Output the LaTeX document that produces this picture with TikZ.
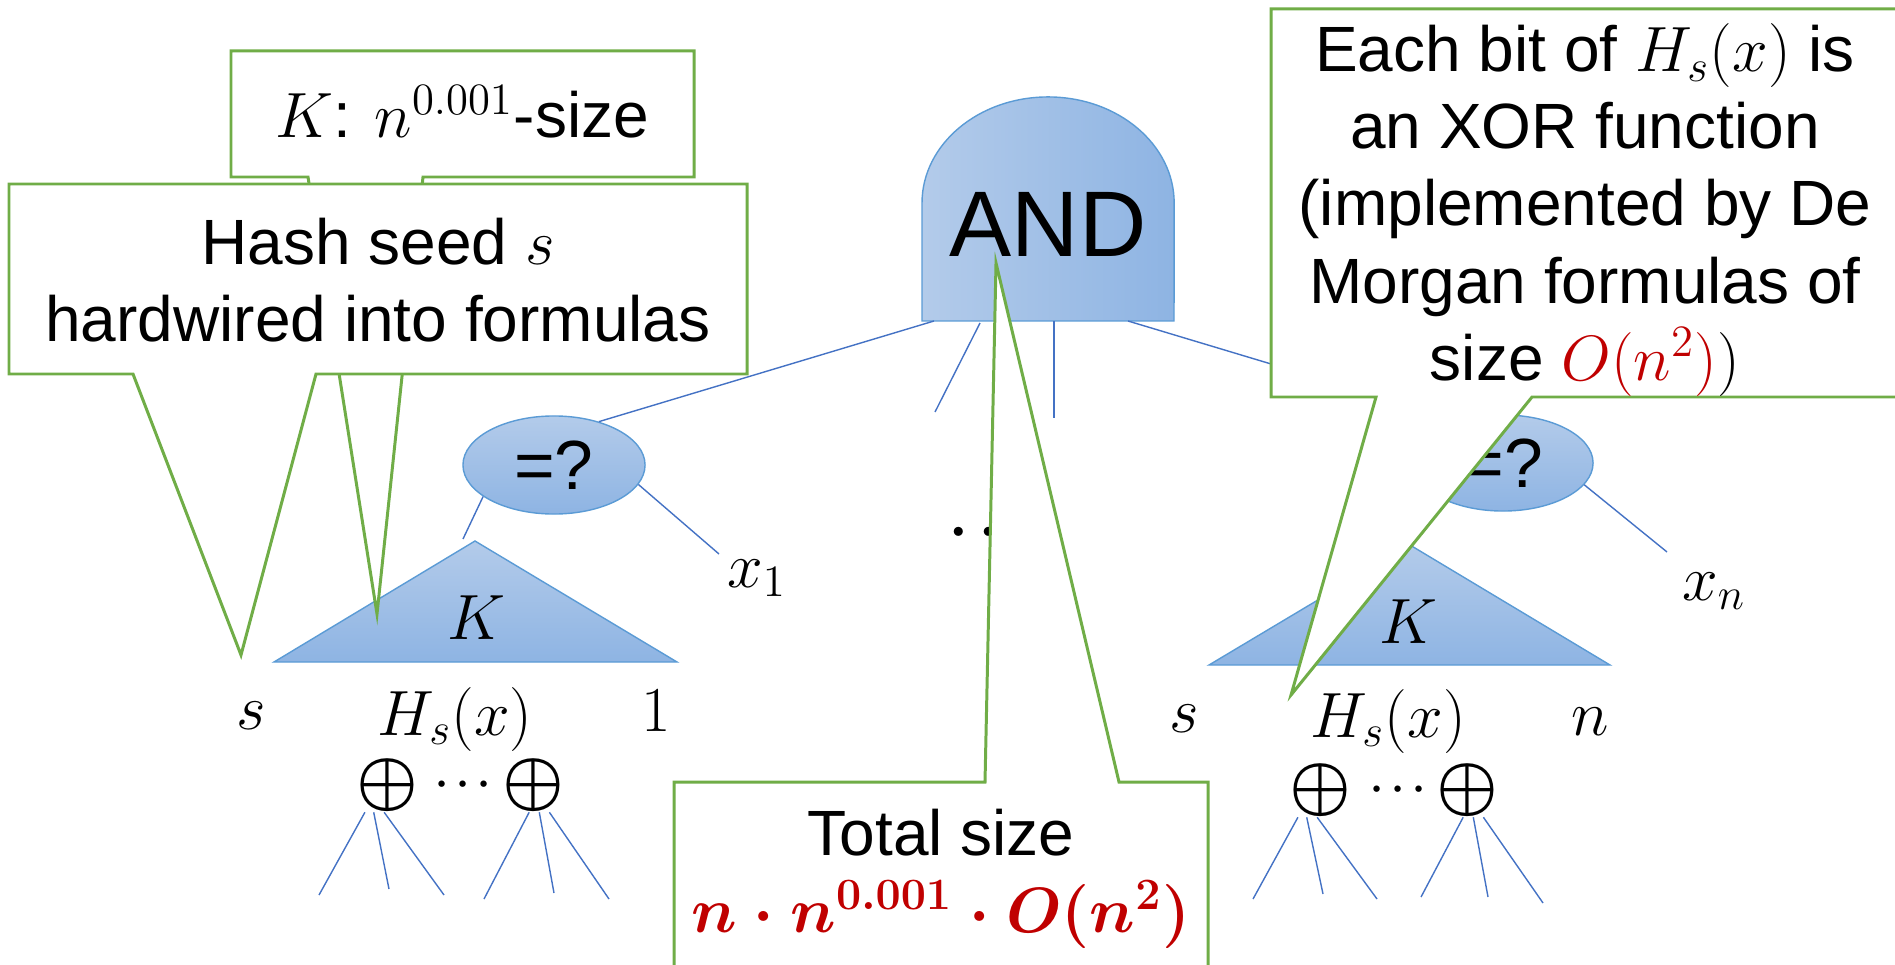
\RequirePackage{fix-cm}
\documentclass[tikz,border=0pt]{standalone}
\usepackage[no-math]{fontspec}
\setmainfont{Liberation Sans}
\usetikzlibrary{shapes.geometric}
\DeclareFontShape{OMS}{cmsy}{m}{n}{<->cmsy10}{}
\DeclareFontShape{OMS}{cmsy}{b}{n}{<->cmbsy10}{}
\definecolor{grn}{HTML}{70AD47}
\definecolor{wir}{HTML}{4472C4}
\definecolor{edg}{HTML}{5B9BD5}
\definecolor{lblu}{HTML}{B3CBEA}
\definecolor{dblu}{HTML}{8EB4E3}
\definecolor{dkred}{HTML}{C00000}
\newcommand{\ctxt}{\fontsize{18.2}{21.9}\selectfont}
\newcommand{\atxt}{\fontsize{26.5}{31.8}\selectfont}
\newcommand{\etxt}{\fontsize{19.8}{23.8}\selectfont}
\newcommand{\otxt}{\fontsize{19.7}{24}\selectfont\boldmath}
\newcommand{\dtxt}{\fontsize{11.7}{14}\selectfont\boldmath}
\newcommand{\mtxt}{\fontsize{16.6}{20}\selectfont\boldmath}
\tikzset{
  call/.style={draw=grn,line width=0.85pt,fill=white},
  txt/.style={align=center,inner sep=0pt,font=\ctxt},
  lbl/.style={inner sep=0pt,anchor=base,font=\ctxt},
  body/.style={draw=edg,line width=0.4pt},
  vshade/.style={body,top color=lblu,bottom color=dblu},
  wire/.style={draw=wir,line width=0.4pt},
  xo/.style={inner sep=0pt,font=\otxt},
}
\begin{document}
\begin{tikzpicture}[x=0.01cm,y=-0.01cm]
\useasboundingbox (0,0) rectangle (1895,964);

\path[body,left color=lblu,right color=dblu] (922,321) -- (922,203)
  arc[start angle=180,end angle=0,x radius=1.26cm,y radius=1.06cm] -- (1174,321) -- cycle;
\node[lbl,font=\atxt] (and) at (1048,257) {AND};
\coordinate (a1) at (934,321);
\coordinate (a2) at (980,323);
\coordinate (a3) at (1054,321);
\coordinate (a4) at (1128,321);

\node[vshade,ellipse,minimum width=1.82cm,minimum height=0.98cm,inner sep=0pt,font=\etxt] (eq1) at (554,465) {=?};
\node[vshade,ellipse,minimum width=1.80cm,minimum height=0.96cm,inner sep=0pt,font=\etxt] (eq2) at (1503,463) {=?};
\path[vshade] (274,662) -- (475,541) coordinate (t1) -- (677,662) -- cycle;
\path[vshade] (1209,665) -- (1410,545) coordinate (t2) -- (1610,665) -- cycle;

\node[lbl] (k1) at (476,639) {$K$};
\node[lbl] (k2) at (1408,643) {$K$};
\node[lbl] (s1) at (251,729) {$s$};
\node[lbl] (h1) at (455,735) {$H_s(x)$};
\node[lbl] (one) at (656,731) {$1$};
\node[lbl] (s2) at (1184,732) {$s$};
\node[lbl] (h2) at (1388,737) {$H_s(x)$};
\node[lbl] (n2) at (1590,735) {$n$};
\node[lbl] (x1) at (757,587) {$x_1$};
\node[lbl] (xn) at (1714,600) {$x_n$};
\node[lbl,font=\mtxt] (mid) at (989,546) {$\cdots$};

\node[xo] (o1) at (387,785) {$\oplus$};
\node[xo,font=\dtxt] (d1) at (463,785) {$\cdots$};
\node[xo] (o2) at (533,785) {$\oplus$};
\node[xo] (o3) at (1320,790) {$\oplus$};
\node[xo,font=\dtxt] (d2) at (1398,790) {$\cdots$};
\node[xo] (o4) at (1467,790) {$\oplus$};

\coordinate (e1) at (935,412);
\coordinate (e2) at (1054,418);
\coordinate (e3) at (463,539);
\coordinate (e4) at (1398,543);
\coordinate (e5) at (719,554);
\coordinate (e6) at (1667,552);
\draw[wire] (a1) -- (eq1.44);
\draw[wire] (a2) -- (e1);
\draw[wire] (a3) -- (e2);
\draw[wire] (a4) -- (eq2.136);
\draw[wire] (eq1.204) -- (e3);
\draw[wire] (eq2.204) -- (e4);
\draw[wire] (eq1.347) -- (e5);
\draw[wire] (eq2.345) -- (e6);

\coordinate (l1) at (319,895); \coordinate (l2) at (389,889); \coordinate (l3) at (444,895);
\coordinate (l4) at (484,899); \coordinate (l5) at (554,893); \coordinate (l6) at (609,899);
\coordinate (l7) at (1253,899); \coordinate (l8) at (1323,894); \coordinate (l9) at (1377,899);
\coordinate (l10) at (1421,897); \coordinate (l11) at (1488,897); \coordinate (l12) at (1543,903);
\draw[wire] (o1.231) -- (l1) (o1.244) -- (l2) (o1.264) -- (l3);
\draw[wire] (o2.262) -- (l4) (o2.283) -- (l5) (o2.301) -- (l6);
\draw[wire] (o3.231) -- (l7) (o3.244) -- (l8) (o3.264) -- (l9);
\draw[wire] (o4.262) -- (l10) (o4.283) -- (l11) (o4.301) -- (l12);

\coordinate (ktip) at (377,614);
\coordinate (htip) at (241,655);
\coordinate (ttip) at (996,263);
\coordinate (rtip) at (1291,695);
\draw[call] (231,51) -- (694,51) -- (694,177) -- (423,177) -- (ktip) -- (308,177) -- (231,177) -- cycle;
\node[txt,anchor=base] (kc) at (462,138) {$K$: $n^{0.001}$-size};
\draw[call] (9,184) -- (747,184) -- (747,374) -- (316,374) -- (htip) -- (133,374) -- (9,374) -- cycle;
\node[txt] (hc) at (378,280) {Hash seed $s$\\hardwired into formulas};
\draw[call] (674,782) -- (985,782) -- (ttip) -- (1119,782) -- (1208,782) -- (1208,975) -- (674,975) -- cycle;
\node[txt] (tc) at (941,879) {Total size\\\textcolor{dkred}{\boldmath$n\cdot n^{0.001}\cdot O(n^2)$}};
\draw[call] (1271,9) -- (1899,9) -- (1899,397) -- (1532,397) -- (rtip) -- (1376,397) -- (1271,397) -- cycle;
\node[txt] (rc) at (1585,210) {Each bit of $H_s(x)$ is\\an XOR function\\(implemented by De\\Morgan formulas of\\size \textcolor{dkred}{$O(n^2)$}$)$};
\end{tikzpicture}
\end{document}
